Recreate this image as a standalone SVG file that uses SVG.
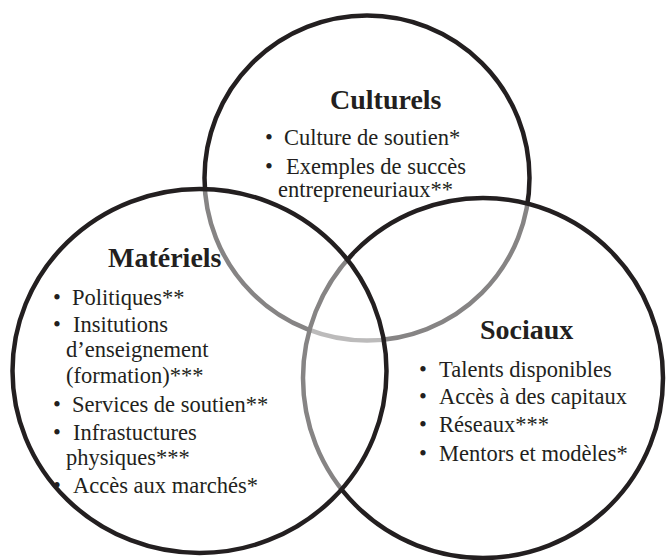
<svg xmlns="http://www.w3.org/2000/svg" width="666" height="560" viewBox="0 0 666 560">
<style>
.ring{fill:#ffffff;fill-opacity:0.45;stroke:#231f20;stroke-width:4.5}
.t{font-family:"Liberation Serif","Times New Roman",serif;font-size:28px;font-weight:bold;fill:#231f20}
.i{font-family:"Liberation Serif","Times New Roman",serif;font-size:22.5px;fill:#231f20}
</style>
<rect width="666" height="560" fill="#ffffff"/>
<g id="connectors"/>
<g id="culturels">
<circle class="ring" cx="367" cy="178" r="162.5"/>
<text class="t" x="330" y="109">Culturels</text>
<text class="i" x="265" y="145">•</text>
<text class="i" x="284" y="145">Culture de soutien*</text>
<text class="i" x="265" y="174">•</text>
<text class="i" x="286" y="174">Exemples de succès</text>
<text class="i" x="278" y="197">entrepreneuriaux**</text>
</g>
<g id="sociaux">
<circle class="ring" cx="483" cy="378" r="180"/>
<text class="t" x="480" y="339">Sociaux</text>
<text class="i" x="419" y="377">•</text>
<text class="i" x="439" y="377">Talents disponibles</text>
<text class="i" x="419" y="404">•</text>
<text class="i" x="439" y="404">Accès à des capitaux</text>
<text class="i" x="419" y="432">•</text>
<text class="i" x="439" y="432">Réseaux***</text>
<text class="i" x="419" y="460.5">•</text>
<text class="i" x="439" y="460.5">Mentors et modèles*</text>
</g>
<g id="materiels">
<ellipse class="ring" cx="199.5" cy="371" rx="187" ry="182"/>
<text class="t" x="108" y="267">Matériels</text>
<text class="i" x="53" y="305">•</text>
<text class="i" x="72" y="305">Politiques**</text>
<text class="i" x="53" y="332">•</text>
<text class="i" x="73" y="332">Insitutions</text>
<text class="i" x="66" y="357">d’enseignement</text>
<text class="i" x="66" y="383">(formation)***</text>
<text class="i" x="53" y="412">•</text>
<text class="i" x="72" y="412">Services de soutien**</text>
<text class="i" x="53" y="440">•</text>
<text class="i" x="73" y="440">Infrastuctures</text>
<text class="i" x="66" y="465">physiques***</text>
<text class="i" x="53" y="493">•</text>
<text class="i" x="73" y="493">Accès aux marchés*</text>
</g>
</svg>
